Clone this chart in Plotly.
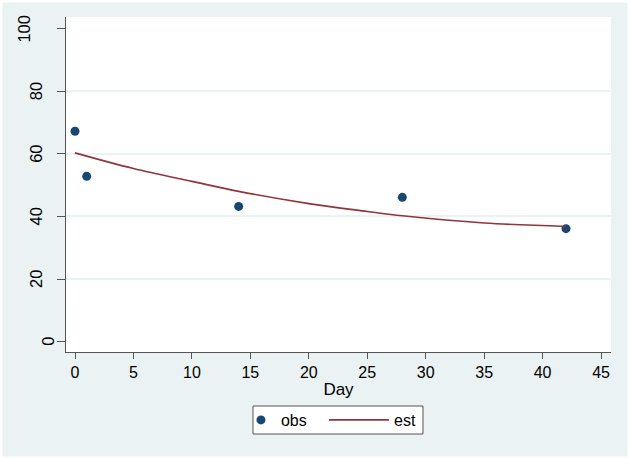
import plotly.graph_objects as go

# Data
obs_day = [0, 1, 14, 28, 42]
obs_val = [67.2, 52.8, 43.2, 46.1, 36.1]

est_day = [0, 5, 10, 14, 20, 25, 28, 35, 42]
est_val = [60.3, 55.3, 51.2, 48.0, 44.1, 41.6, 40.2, 37.9, 36.8]

x_ticks = [0, 5, 10, 15, 20, 25, 30, 35, 40, 45]
y_ticks = [0, 20, 40, 60, 80, 100]
grid_ticks = [20, 40, 60, 80]

BG = "#eaf2f3"
NAVY = "#1a476f"
MAROON = "#90353b"
AXIS = "#555555"
FONT = "Liberation Sans, Arial, sans-serif"

fig = go.Figure()
fig.add_trace(go.Scatter(x=obs_day, y=obs_val, mode="markers", name="obs",
                         marker=dict(color=NAVY, size=9), legend="legend"))
fig.add_trace(go.Scatter(x=est_day, y=est_val, mode="lines", name="est",
                         line=dict(color=MAROON, width=1.6, shape="spline"), legend="legend2"))
# invisible helper trace for grid axis
fig.add_trace(go.Scatter(x=[None], y=[None], yaxis="y2", showlegend=False, hoverinfo="skip"))

# rotated y tick labels (Stata-style placement)
annotations = []
for v in y_ticks:
    s = str(v)
    annotations.append(dict(xref="paper", yref="y", x=0, y=v, text=s, showarrow=False,
                            textangle=-90, xanchor="center", yanchor="middle",
                            xshift=-(6 + 12 * len(s)), font=dict(size=16.5, color="black")))

yr = [-3.3, 103.7]
leg_common = dict(orientation="h", yanchor="middle", y=-0.203, xanchor="left",
                  bgcolor="rgba(0,0,0,0)", borderwidth=0, font=dict(size=16))
fig.update_layout(
    width=630, height=459,
    margin=dict(l=66, r=19, t=17, b=107, autoexpand=False),
    paper_bgcolor=BG, plot_bgcolor="white",
    font=dict(family=FONT, size=16, color="black"),
    showlegend=True,
    legend=dict(x=0.321, itemwidth=30, **leg_common),
    legend2=dict(x=0.4734, itemwidth=60, **leg_common),
    xaxis=dict(range=[-0.77, 45.85], tickvals=x_ticks, showgrid=False, zeroline=False,
               showline=True, linecolor=AXIS, linewidth=1, ticks="outside", ticklen=6,
               tickcolor=AXIS, tickfont=dict(size=16), ticklabelstandoff=0, automargin=False,
               title=dict(text="Day", font=dict(size=17), standoff=2)),
    yaxis=dict(range=yr, tickvals=y_ticks, showgrid=False, zeroline=False,
               showline=True, linecolor=AXIS, linewidth=1, ticks="outside", ticklen=8,
               tickcolor=AXIS, showticklabels=False, automargin=False),
    yaxis2=dict(range=yr, overlaying="y", tickvals=grid_ticks, showgrid=True,
                gridcolor=BG, gridwidth=1.5, showticklabels=False, zeroline=False,
                showline=False, ticks="", automargin=False),
    annotations=annotations,
    shapes=[
        dict(type="rect", xref="paper", yref="paper",
             x0=0.3431, x1=0.6550, y0=-0.2448, y1=-0.1612,
             line=dict(color=AXIS, width=1), fillcolor="white", layer="below"),
        dict(type="rect", xref="paper", yref="paper",
             x0=-0.1211, x1=1.0349, y0=-0.3194, y1=1.0507,
             line=dict(color="white", width=5), fillcolor="rgba(0,0,0,0)",
             layer="above"),
    ],
)

fig.write_html("out.html", config={"displayModeBar": False},
               post_script="document.body.style.margin='0';document.body.style.padding='0';")
